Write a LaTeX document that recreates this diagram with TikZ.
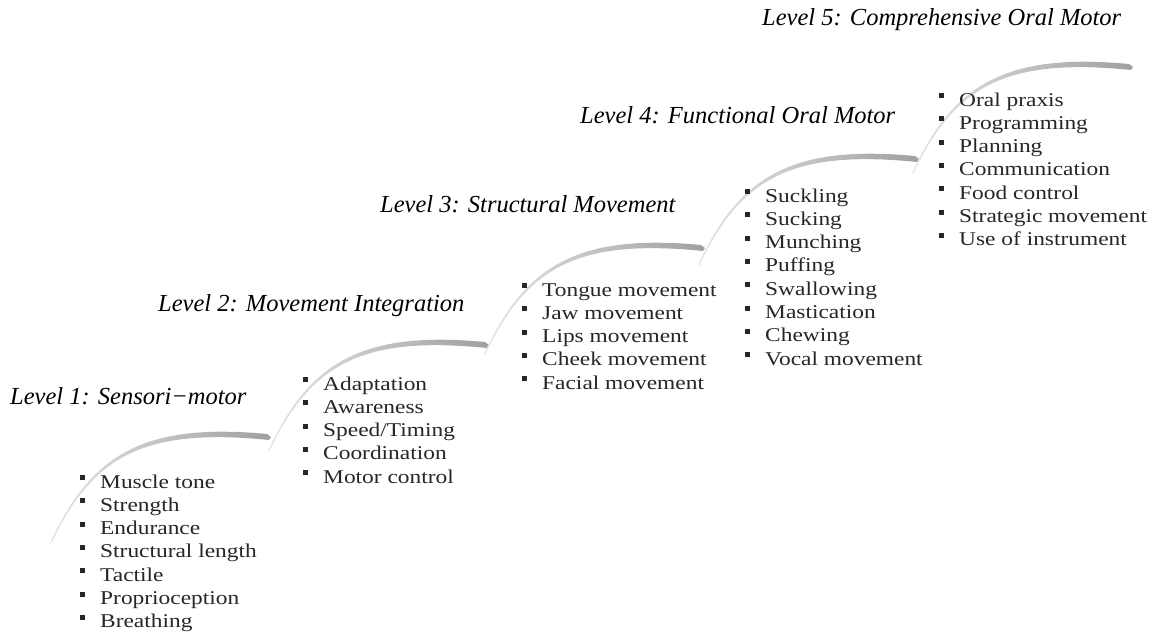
\documentclass[tikz,border=0pt]{standalone}
\usepackage{fontspec}
\setmainfont{Liberation Serif}
\newfontfamily\itemfont[FakeStretch=1.2]{Liberation Serif}
\tikzset{
  level/.style={anchor=base west, inner sep=0pt, font=\fontsize{24.5}{28}\selectfont\itshape},
  entry/.style={anchor=base west, inner sep=0pt, text=black!85, font=\itemfont\fontsize{19.5}{23}\selectfont},
  stair/.pic={\shade[left color=gray!20, right color=gray!75] (0,0) .. controls (40,-86) and (90,-121) .. (217,-109) -- (221,-106) -- (219,-103) .. controls (91,-116) and (42,-85) .. (1.5,0) -- cycle;}
}
\newcommand{\bul}{\makebox[20pt][l]{\rule[8pt]{5pt}{5pt}}}

\begin{document}
\begin{tikzpicture}[x=1pt,y=-1pt]
\useasboundingbox (0,0) rectangle (1157,633);
% steps
\foreach \sx/\sy in {50/543, 268/451, 484/354, 698/265, 912/173}
  \pic at (\sx,\sy) {stair};
% level titles
\node[level] (lv1) at (10,404) {Level 1: Sensori−motor};
\node[level] (lv2) at (158,311) {Level 2: Movement Integration};
\node[level] (lv3) at (380,212) {Level 3: Structural Movement};
\node[level] (lv4) at (580,123) {Level 4: Functional Oral Motor};
\node[level] (lv5) at (762,25) {Level 5: Comprehensive Oral Motor};
% items of each level
\foreach \t [count=\i from 0] in {Muscle tone, Strength, Endurance, Structural length, Tactile, Proprioception, Breathing}
  \node[entry] (a\i) at (80,488+23.3*\i) {\bul\t};
\foreach \t [count=\i from 0] in {Adaptation, Awareness, Speed/Timing, Coordination, Motor control}
  \node[entry] (b\i) at (303,390+23.3*\i) {\bul\t};
\foreach \t [count=\i from 0] in {Tongue movement, Jaw movement, Lips movement, Cheek movement, Facial movement}
  \node[entry] (c\i) at (522,296+23.3*\i) {\bul\t};
\foreach \t [count=\i from 0] in {Suckling, Sucking, Munching, Puffing, Swallowing, Mastication, Chewing, Vocal movement}
  \node[entry] (d\i) at (745,202+23.3*\i) {\bul\t};
\foreach \t [count=\i from 0] in {Oral praxis, Programming, Planning, Communication, Food control, Strategic movement, Use of instrument}
  \node[entry] (e\i) at (939,106+23.3*\i) {\bul\t};
\end{tikzpicture}
\end{document}
